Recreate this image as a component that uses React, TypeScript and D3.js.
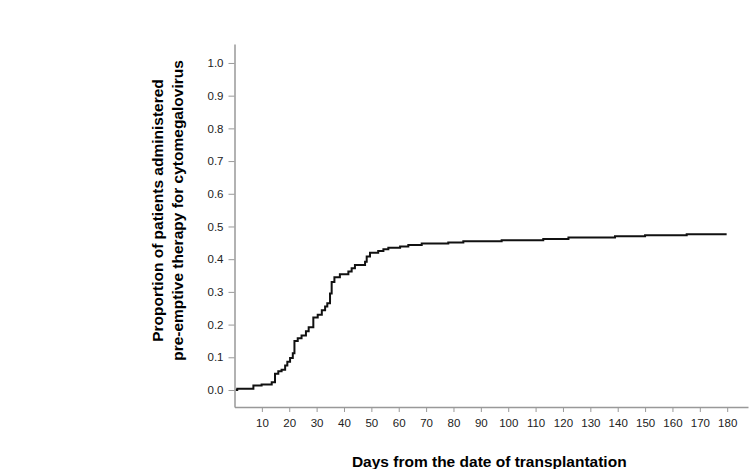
import * as d3 from "d3";
import { useEffect, useRef } from "react";

// cumulative incidence curve
const days = [0.5, 1, 6.9, 9.9, 13.6, 14.8, 16, 17.2, 18.5, 19.3, 20.3, 21.3, 21.9, 23.1, 24.5, 26.1, 27.1, 28.8, 30.4, 31.9, 33.1, 33.9, 34.9, 35.5, 36.5, 38.5, 41.6, 42.8, 44, 47.7, 48.3, 49.5, 52.5, 54.4, 56.2, 60.5, 63.5, 68.4, 78.1, 83.6, 97.6, 112.8, 122, 139, 150, 165.2, 179.8];
const proportion = [0, 0.004, 0.014, 0.017, 0.024, 0.05, 0.057, 0.062, 0.075, 0.086, 0.098, 0.112, 0.15, 0.158, 0.167, 0.18, 0.192, 0.222, 0.23, 0.244, 0.255, 0.265, 0.295, 0.33, 0.345, 0.354, 0.362, 0.372, 0.382, 0.392, 0.408, 0.42, 0.425, 0.43, 0.435, 0.439, 0.443, 0.448, 0.451, 0.455, 0.458, 0.462, 0.466, 0.47, 0.473, 0.476, 0.476];

const xTicks = [10, 20, 30, 40, 50, 60, 70, 80, 90, 100, 110, 120, 130, 140, 150, 160, 170, 180];
const yTicks = [0, 0.1, 0.2, 0.3, 0.4, 0.5, 0.6, 0.7, 0.8, 0.9, 1.0];

const xLabel = "Days from the date of transplantation";
const yLabelLines = ["Proportion of patients administered", "pre-emptive therapy for cytomegalovirus"];

const WIDTH = 750;
const HEIGHT = 469;
const AXIS_COLOR = "#999";
const FONT = "'Liberation Sans', Arial, sans-serif";

export default function App() {
  const svgRef = useRef(null);

  useEffect(() => {
    const svg = d3.select(svgRef.current);
    svg.selectAll("*").remove();

    const left = 234.5;
    const right = 748;
    const top = 44;
    const bottom = 407;

    const x = d3.scaleLinear().domain([0, 187.6]).range([left, right]);
    const y = d3.scaleLinear().domain([-0.052, 1.058]).range([bottom, top]);

    // x axis
    const gx = svg
      .append("g")
      .attr("transform", `translate(0,${bottom})`)
      .call(d3.axisBottom(x).tickValues(xTicks).tickSizeInner(5).tickSizeOuter(0).tickPadding(7).tickFormat(d3.format("d")));
    gx.select(".domain").attr("stroke", AXIS_COLOR).attr("stroke-width", 1.5);
    gx.selectAll(".tick line").attr("stroke", AXIS_COLOR);
    gx.selectAll("text").attr("fill", "#222").style("font-size", "11.5px").style("font-family", FONT);

    // y axis
    const gy = svg
      .append("g")
      .attr("transform", `translate(${left},0)`)
      .call(d3.axisLeft(y).tickValues(yTicks).tickSizeInner(6).tickSizeOuter(0).tickPadding(5).tickFormat(d3.format(".1f")));
    gy.select(".domain").attr("stroke", AXIS_COLOR).attr("stroke-width", 1.5);
    gy.selectAll(".tick line").attr("stroke", AXIS_COLOR);
    gy.selectAll("text").attr("fill", "#222").style("font-size", "11.5px").style("font-family", FONT);

    // step curve
    const points = days.map((d, i) => [d, proportion[i]]);
    const line = d3
      .line()
      .x((d) => x(d[0]))
      .y((d) => y(d[1]))
      .curve(d3.curveStepAfter);

    svg
      .append("path")
      .datum(points)
      .attr("d", line)
      .attr("fill", "none")
      .attr("stroke", "#111")
      .attr("stroke-width", 2);

    // axis titles
    svg
      .append("text")
      .attr("x", (left + right) / 2 - 2)
      .attr("y", 467)
      .attr("text-anchor", "middle")
      .style("font-family", FONT)
      .style("font-size", "15.5px")
      .style("font-weight", "bold")
      .text(xLabel);

    const yTitle = svg
      .append("text")
      .attr("transform", `translate(163,${(top + bottom) / 2 - 15}) rotate(-90)`)
      .attr("text-anchor", "middle")
      .style("font-family", FONT)
      .style("font-size", "15.5px")
      .style("font-weight", "bold");
    yLabelLines.forEach((t, i) => {
      yTitle.append("tspan").attr("x", 0).attr("dy", i === 0 ? 0 : 20).text(t);
    });
  }, []);

  return (
    <svg
      ref={svgRef}
      width={WIDTH}
      height={HEIGHT}
      style={{ position: "absolute", left: 0, top: 0, background: "#fff" }}
    />
  );
}
